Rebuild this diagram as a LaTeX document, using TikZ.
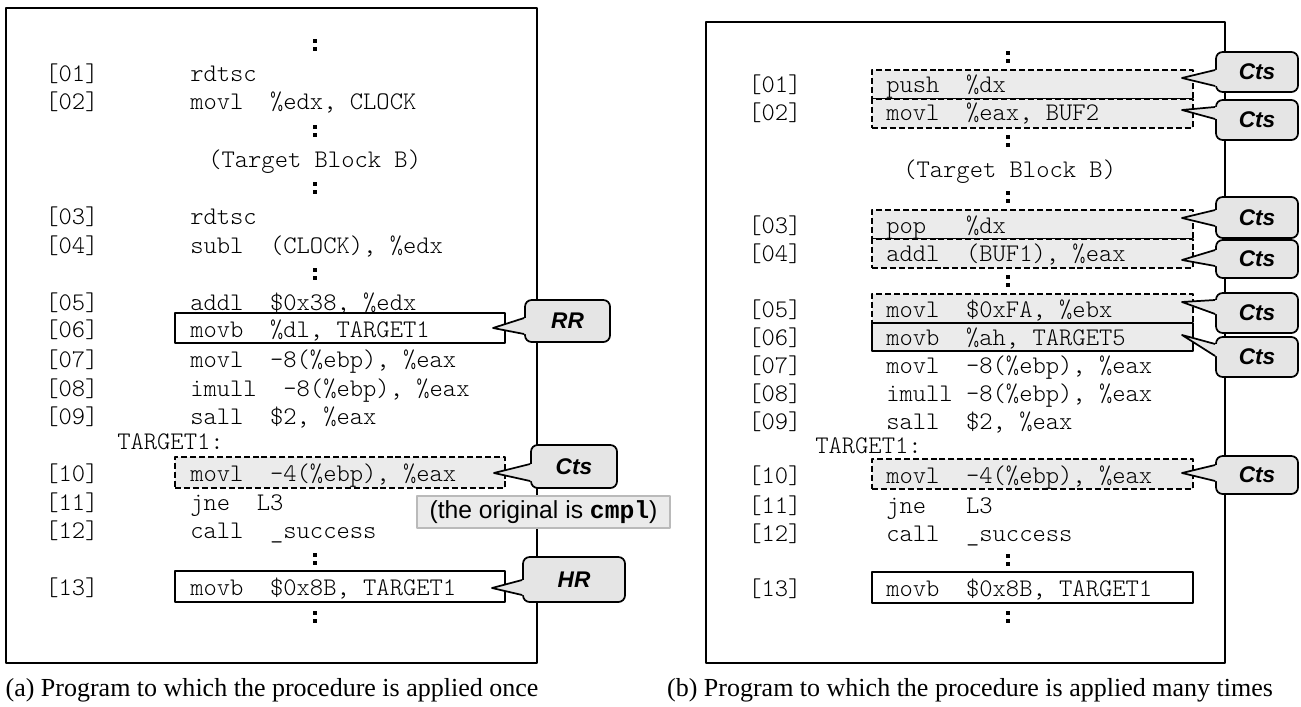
\documentclass[tikz,border=0pt]{standalone}
\usepackage{fontspec}
\setmainfont{Liberation Serif}
\setsansfont{Liberation Sans}
\newfontfamily\notemono{Liberation Mono}
\usetikzlibrary{fit}

% listing text: light typewriter face
\newcommand\codefont{\fontsize{19}{23}\ttfamily\fontseries{l}\selectfont\frenchspacing}
% two stacked dots for omitted lines
\newcommand\skipdots[2]{%
  \fill (#1-1.6,#2-6) rectangle (#1+1.6,#2-2);
  \fill (#1-1.6,#2+2) rectangle (#1+1.6,#2+6);}
% wedge from the left side of a bubble to its tip
\newcommand\bubbletail[4]{%
  \fill[black!10] (#1.west |- 0,#3) -- (#2) -- (#1.west |- 0,#4) -- ++(4,0) -- ++(0,#3-#4) -- cycle;
  \draw[line width=1.3pt] (#1.west |- 0,#3) -- (#2) -- (#1.west |- 0,#4);}

\begin{document}
\begin{tikzpicture}[x=0.75pt,y=-0.75pt,line join=round,
    panel/.style={draw,line width=1.6pt,inner sep=0pt},
    plainbox/.style={draw,line width=1.5pt,fill=white,inner sep=0pt},
    hotbox/.style={draw,line width=1.5pt,fill=black!8,inner sep=0pt},
    ctsbox/.style={draw,line width=1.3pt,dash pattern=on 4.5pt off 2.2pt,fill=black!8,inner sep=0pt},
    code/.style={anchor=base west,inner sep=0pt,font=\codefont},
    bubble/.style={draw,line width=1.3pt,fill=black!10,rounded corners=5pt,inner sep=0pt},
    bubbletext/.style={inner sep=0pt,font=\fontsize{17}{19}\sffamily\bfseries\itshape},
    note/.style={draw=black!27,line width=1.2pt,fill=black!8,inner sep=0pt},
    notetext/.style={inner sep=0pt,font=\fontsize{18.5}{20}\sffamily},
    caption/.style={inner sep=0pt,font=\fontsize{19.5}{22}\selectfont}]
\useasboundingbox (0,0) rectangle (1301,706);

% (a) procedure applied once
\node[panel,fit={(6,8)(537,663)}] (progA) {};
\foreach \y in {45,131,188,274,559,617} {\skipdots{315}{\y}}
\node[plainbox,fit={(175,313)(505,343)}] (a06) {};
\node[ctsbox,fit={(175,457)(505,488)}] (a10) {};
\node[plainbox,fit={(175,571)(505,602)}] (a13) {};
\foreach \n/\y in {01/82,02/110,03/224,04/253,05/310,06/337,07/367,
    08/396,09/424,10/481,11/510,12/538,13/595}
  {\node[code] (la\n) at (45,\y) {[\n]};}
\node[code] (ca01) at (190,82) {rdtsc};
\node[code] (ca02) at (190,110) {movl~~\%edx, CLOCK};
\node[code] (blkA) at (208,167) {(Target Block B)};
\node[code] (ca03) at (190,224) {rdtsc};
\node[code] (ca04) at (190,253) {subl~~(CLOCK), \%edx};
\node[code] (ca05) at (190,310) {addl~~\$0x38, \%edx};
\node[code] (ca06) at (190,337) {movb~~\%dl, TARGET1};
\node[code] (ca07) at (190,367) {movl~~-8(\%ebp), \%eax};
\node[code] (ca08) at (190,396) {imull~~-8(\%ebp), \%eax};
\node[code] (ca09) at (190,424) {sall~~\$2, \%eax};
\node[code] (tgtA) at (117,449) {TARGET1:};
\node[code] (ca10) at (190,481) {movl~~-4(\%ebp), \%eax};
\node[code] (ca11) at (190,510) {jne~~L3};
\node[code] (ca12) at (190,538) {call~~\_success};
\node[code] (ca13) at (190,595) {movb~~\$0x8B, TARGET1};

\node[note,fit={(417,496)(670,528)}] (orig) {};
\node[notetext] (origt) at (orig) {(the original is {\notemono\bfseries cmpl})};

\node[bubble,fit={(525,300)(610,342)}] (rr) {};
\node[bubbletext] (rrt) at (rr) {RR};
\coordinate (rrtip) at (493,328);
\bubbletail{rr}{rrtip}{318}{334}
\node[bubble,fit={(531,445)(617,488)}] (ctsA) {};
\node[bubbletext] (ctsAt) at (ctsA) {Cts};
\coordinate (ctsAtip) at (494,473);
\bubbletail{ctsA}{ctsAtip}{464}{481}
\node[bubble,fit={(523,557)(625,602)}] (hr) {};
\node[bubbletext] (hrt) at (hr) {HR};
\coordinate (hrtip) at (492,588);
\bubbletail{hr}{hrtip}{580}{595}

% (b) procedure applied many times
\node[panel,fit={(706,22)(1225,663)}] (progB) {};
\foreach \y in {57,141,197,281,560,617} {\skipdots{1008}{\y}}
\node[ctsbox,fit={(872,70)(1193,99)}] (b01) {};
\node[ctsbox,fit={(872,99)(1193,128)}] (b02) {};
\node[ctsbox,fit={(872,210)(1193,239)}] (b03) {};
\node[ctsbox,fit={(872,239)(1193,268)}] (b04) {};
\node[ctsbox,fit={(872,294)(1193,323)}] (b05) {};
\node[hotbox,fit={(872,323)(1193,351)}] (b06) {};
\node[ctsbox,fit={(872,459)(1193,489)}] (b10) {};
\node[plainbox,fit={(872,572)(1193,603)}] (b13) {};
\foreach \n/\y in {01/93,02/121,03/233,04/261,05/317,06/345,07/373,
    08/401,09/429,10/483,11/513,12/541,13/596}
  {\node[code] (lb\n) at (748,\y) {[\n]};}
\node[code] (cb01) at (886,93) {push~~\%dx};
\node[code] (cb02) at (886,121) {movl~~\%eax, BUF2};
\node[code] (blkB) at (903,177) {(Target Block B)};
\node[code] (cb03) at (886,233) {pop~~~\%dx};
\node[code] (cb04) at (886,261) {addl~~(BUF1), \%eax};
\node[code] (cb05) at (886,317) {movl~~\$0xFA, \%ebx};
\node[code] (cb06) at (886,345) {movb~~\%ah, TARGET5};
\node[code] (cb07) at (886,373) {movl~~-8(\%ebp), \%eax};
\node[code] (cb08) at (886,401) {imull~-8(\%ebp), \%eax};
\node[code] (cb09) at (886,429) {sall~~\$2, \%eax};
\node[code] (tgtB) at (815,453) {TARGET1:};
\node[code] (cb10) at (886,483) {movl~~-4(\%ebp), \%eax};
\node[code] (cb11) at (886,513) {jne~~~L3};
\node[code] (cb12) at (886,541) {call~~\_success};
\node[code] (cb13) at (886,596) {movb~~\$0x8B, TARGET1};

\node[bubble,fit={(1216,52)(1298,92)}] (cts1) {};
\node[bubbletext] (cts1t) at (cts1) {Cts};
\coordinate (tip1) at (1182,78);
\bubbletail{cts1}{tip1}{70}{86}
\node[bubble,fit={(1216,100)(1298,140)}] (cts2) {};
\node[bubbletext] (cts2t) at (cts2) {Cts};
\coordinate (tip2) at (1182,110);
\bubbletail{cts2}{tip2}{107}{119}
\node[bubble,fit={(1216,197)(1298,238)}] (cts3) {};
\node[bubbletext] (cts3t) at (cts3) {Cts};
\coordinate (tip3) at (1182,218);
\bubbletail{cts3}{tip3}{210}{226}
\node[bubble,fit={(1216,240)(1298,278)}] (cts4) {};
\node[bubbletext] (cts4t) at (cts4) {Cts};
\coordinate (tip4) at (1182,260);
\bubbletail{cts4}{tip4}{250}{266}
\node[bubble,fit={(1216,293)(1298,333)}] (cts5) {};
\node[bubbletext] (cts5t) at (cts5) {Cts};
\coordinate (tip5) at (1182,302);
\bubbletail{cts5}{tip5}{300}{314}
\node[bubble,fit={(1216,337)(1298,377)}] (cts6) {};
\node[bubbletext] (cts6t) at (cts6) {Cts};
\coordinate (tip6) at (1182,335);
\bubbletail{cts6}{tip6}{344}{356}
\node[bubble,fit={(1216,456)(1298,494)}] (cts7) {};
\node[bubbletext] (cts7t) at (cts7) {Cts};
\coordinate (tip7) at (1182,473);
\bubbletail{cts7}{tip7}{465}{481}

\node[caption] (capA) at (272,690) {(a) Program to which the procedure is applied once};
\node[caption] (capB) at (970,690) {(b) Program to which the procedure is applied many times};
\end{tikzpicture}
\end{document}
